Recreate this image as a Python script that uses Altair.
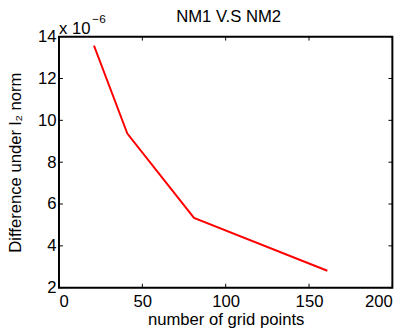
import altair as alt
import pandas as pd

grid_points = [21, 41, 81, 161]
difference_e6 = [13.57, 9.37, 5.34, 2.81]
x_ticks = [0, 50, 100, 150, 200]
y_ticks = [2, 4, 6, 8, 10, 12, 14]

df = pd.DataFrame({"n": grid_points, "d": difference_e6})
xt = pd.DataFrame({"t": x_ticks})
yt = pd.DataFrame({"t": y_ticks})

FONT = "Liberation Sans"
W, H = 340, 256
xs = alt.Scale(domain=[0, 200], nice=False, zero=False)
ys = alt.Scale(domain=[2, 14], nice=False, zero=False)
xax = alt.Axis(values=x_ticks, title="number of grid points", labelPadding=6, titlePadding=3)
yax = alt.Axis(values=y_ticks, title="Difference under l₂ norm", labelPadding=3, titlePadding=13)

line = alt.Chart(df).mark_line(color="#ff0000", strokeWidth=2).encode(
    x=alt.X("n:Q", scale=xs, axis=xax),
    y=alt.Y("d:Q", scale=ys, axis=yax),
)

tick_len = 4
bottom = alt.Chart(xt).mark_rule(color="black", strokeWidth=1).encode(
    x=alt.X("t:Q", scale=xs, axis=xax), y=alt.value(H), y2=alt.value(H - tick_len))
top = alt.Chart(xt).mark_rule(color="black", strokeWidth=1).encode(
    x=alt.X("t:Q", scale=xs, axis=xax), y=alt.value(0), y2=alt.value(tick_len))
left = alt.Chart(yt).mark_rule(color="black", strokeWidth=1).encode(
    y=alt.Y("t:Q", scale=ys, axis=yax), x=alt.value(0), x2=alt.value(tick_len))
right = alt.Chart(yt).mark_rule(color="black", strokeWidth=1).encode(
    y=alt.Y("t:Q", scale=ys, axis=yax), x=alt.value(W), x2=alt.value(W - tick_len))

title = alt.Chart(pd.DataFrame({"s": ["NM1 V.S NM2"]})).mark_text(
    font=FONT, fontSize=17, align="center", baseline="alphabetic", color="black").encode(
    text="s:N", x=alt.value(W / 2 + 3), y=alt.value(-15))
mult = alt.Chart(pd.DataFrame({"s": ["x 10"]})).mark_text(
    font=FONT, fontSize=17, align="left", baseline="alphabetic", color="black").encode(
    text="s:N", x=alt.value(0), y=alt.value(-3))
expo = alt.Chart(pd.DataFrame({"s": ["−6"]})).mark_text(
    font=FONT, fontSize=12, align="left", baseline="alphabetic", color="black").encode(
    text="s:N", x=alt.value(34), y=alt.value(-14))

chart = alt.layer(line, bottom, top, left, right, title, mult, expo).properties(
    width=W, height=H,
    autosize=alt.AutoSizeParams(type="none"),
    padding={"left": 52, "top": 26, "right": 19, "bottom": 44},
).configure_view(
    stroke="black", strokeWidth=2
).configure_axis(
    grid=False, domain=False, ticks=False,
    labelFont=FONT, labelFontSize=17, labelColor="black",
    titleFont=FONT, titleFontSize=17, titleFontWeight="normal", titleColor="black",
)

chart.save("out.html", embed_options={"renderer": "svg", "actions": False})
